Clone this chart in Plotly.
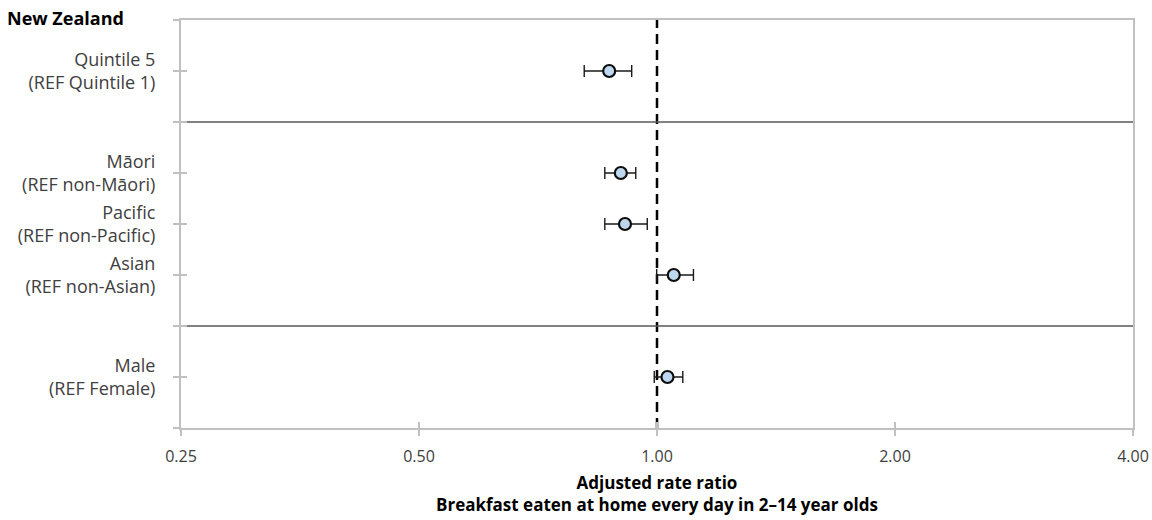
import math
import plotly.graph_objects as go

# ---- data ----
categories = [
    "Quintile 5<br>(REF Quintile 1)",
    "Māori<br>(REF non-Māori)",
    "Pacific<br>(REF non-Pacific)",
    "Asian<br>(REF non-Asian)",
    "Male<br>(REF Female)",
]
groups = ["Deprivation", "Ethnicity", "Ethnicity", "Ethnicity", "Sex"]
rate_ratio = [0.870, 0.900, 0.911, 1.050, 1.031]
ci_lower = [0.809, 0.859, 0.859, 0.999, 0.992]
ci_upper = [0.929, 0.940, 0.972, 1.112, 1.078]
reference_value = 1.0
x_tick_values = [0.25, 0.5, 1, 2, 4]
x_tick_labels = ["0.25", "0.50", "1.00", "2.00", "4.00"]
panel_title = "New Zealand"
x_title_lines = ["Adjusted rate ratio", "Breakfast eaten at home every day in 2–14 year olds"]

# ---- category slot layout: a blank slot between groups holds a separator ----
positions, separators = [], []
pos = 1
for i, g in enumerate(groups):
    if i > 0 and g != groups[i - 1]:
        separators.append(pos + 1)
        pos += 2
    elif i > 0:
        pos += 1
    positions.append(pos)
n_slots = positions[-1] + 1
tickvals_y = list(range(0, n_slots + 1))
ticktext_y = [categories[positions.index(v)] if v in positions else "" for v in tickvals_y]

FONT = "Open Sans"
TXT = "#404040"
FRAME = "#c0c0c0"

fig = go.Figure()
fig.add_trace(go.Scatter(
    x=rate_ratio, y=positions, mode="markers",
    marker=dict(size=12, color="#bdd7ee", line=dict(color="#0d0d0d", width=2.2)),
    error_x=dict(type="data", symmetric=False,
                 array=[u - r for u, r in zip(ci_upper, rate_ratio)],
                 arrayminus=[r - l for r, l in zip(rate_ratio, ci_lower)],
                 color="#1a1a1a", thickness=1.4, width=6),
    showlegend=False, hoverinfo="skip",
))
# dummy trace on overlay axes (for the inner half of the crossing ticks)
fig.add_trace(go.Scatter(x=[None], y=[None], xaxis="x2", yaxis="y2",
                         showlegend=False, hoverinfo="skip"))

xr = [math.log10(x_tick_values[0]), math.log10(x_tick_values[-1])]
fig.update_layout(
    width=1152, height=520,
    margin=dict(l=181, r=19, t=20, b=92, autoexpand=False),
    paper_bgcolor="white", plot_bgcolor="white",
    font=dict(family=FONT, size=18, color=TXT),
    xaxis=dict(type="log", range=xr, tickvals=x_tick_values, ticktext=x_tick_labels,
               showgrid=False, zeroline=False, showline=True, linecolor=FRAME,
               linewidth=2, mirror=True, ticks="outside", ticklen=6, tickcolor=FRAME,
               tickwidth=1.5, ticklabelstandoff=7, automargin=False,
               tickfont=dict(family=FONT, size=16, color=TXT)),
    yaxis=dict(range=[n_slots, 0], tickvals=tickvals_y, ticktext=ticktext_y,
               showgrid=False, zeroline=False, showline=True, linecolor=FRAME,
               linewidth=2, mirror=True, ticks="outside", ticklen=6, tickcolor=FRAME,
               tickwidth=1.5, ticklabelstandoff=14, automargin=False,
               tickfont=dict(family=FONT, size=18, color=TXT)),
    xaxis2=dict(type="log", range=xr, tickvals=x_tick_values, overlaying="x",
                anchor="y2", side="bottom", showticklabels=False, showgrid=False,
                zeroline=False, showline=False, ticks="inside", ticklen=6,
                tickcolor=FRAME, tickwidth=1.5, automargin=False),
    yaxis2=dict(range=[n_slots, 0], tickvals=tickvals_y, overlaying="y",
                anchor="x2", side="left", showticklabels=False, showgrid=False,
                zeroline=False, showline=False, ticks="inside", ticklen=6,
                tickcolor=FRAME, tickwidth=1.5, automargin=False),
)

# reference line at rate ratio 1
fig.add_shape(type="line", xref="x", yref="paper", x0=reference_value, x1=reference_value,
              y0=0, y1=1, line=dict(color="black", width=2.5, dash="10px,6px"),
              layer="between")
# group separators
for s in separators:
    fig.add_shape(type="line", xref="paper", yref="y", x0=0, x1=1, y0=s, y1=s,
                  line=dict(color="#595959", width=1.5), layer="between")

fig.add_annotation(text=f"<b>{panel_title}</b>", xref="paper", yref="paper",
                   x=-176 / 952, y=1 + 2 / 408, xanchor="left", yanchor="middle",
                   showarrow=False, font=dict(family=FONT, size=18, color="black"))
# x-axis title, two lines in one text block
fig.add_annotation(text="<br>".join(f"<b>{t}</b>" for t in x_title_lines),
                   xref="paper", yref="paper", x=0.5, y=-90 / 408,
                   xanchor="center", yanchor="bottom", showarrow=False,
                   font=dict(family=FONT, size=17, color="black"))

fig.write_html("out.html", config={"displayModeBar": False},
               post_script="document.body.style.margin='0';document.body.style.overflow='hidden';")
